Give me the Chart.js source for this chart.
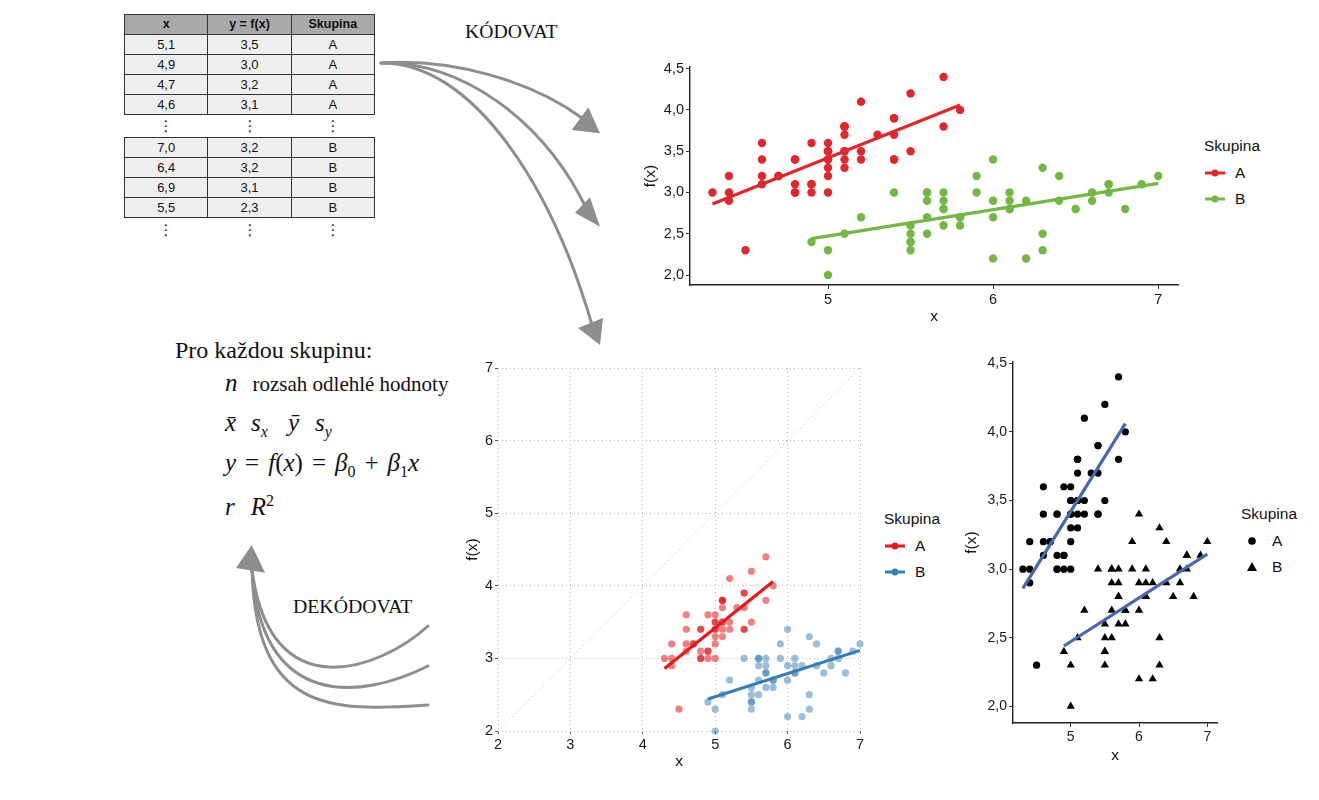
<!DOCTYPE html>
<html><head><meta charset="utf-8">
<script src="https://cdn.jsdelivr.net/npm/chart.js@4"></script>
<style>
body{margin:0;width:1319px;height:800px;background:#fff;position:relative;overflow:hidden;font-family:'Liberation Sans',Arial,sans-serif;color:#111;}
.abs{position:absolute;}
table.data{border-collapse:collapse;position:absolute;left:124px;width:251px;table-layout:fixed;}
table.data td,table.data th{border:1px solid #333;height:19px;padding:0;text-align:center;font-size:13px;line-height:19px;color:#111;background:#efefef;}
table.data th{background:#a9a9a9;font-weight:bold;font-size:12.5px;}
.vdots{position:absolute;font-size:15px;line-height:18px;width:20px;text-align:center;color:#222;font-family:'DejaVu Sans',sans-serif;}
.serif{font-family:'Liberation Serif','Times New Roman',serif;}
.math{font-family:'Liberation Serif','Times New Roman',serif;font-size:25px;position:absolute;left:225px;white-space:nowrap;line-height:30px;}
.math i{font-style:italic;}
.math sub,.math sup{font-size:16px;font-style:italic;}
.math .op{margin:0 9px;font-style:normal;}
.gap{display:inline-block;}
.legend{position:absolute;font-size:15.5px;color:#111;}
.legend .t{margin-bottom:5px;}
.legend .row{display:flex;align-items:center;height:26px;}
.legend svg{margin-right:9px;}
</style></head>
<body>

<svg class="abs" style="left:0;top:0" width="1319" height="800">
 <g fill="none" stroke="#8e8e8e" stroke-width="3" stroke-linecap="round">
  <path d="M381,63 C450,58 530,80 582,118"/>
  <path d="M381,63 C460,60 545,120 588,212"/>
  <path d="M381,63 C470,62 550,180 592,325"/>
  <path d="M428,626 C380,670 270,710 252,570"/>
  <path d="M428,666 C360,700 262,710 252,570"/>
  <path d="M428,705 C330,712 256,712 252,570"/>
 </g>
 <g fill="#8e8e8e">
  <polygon points="571.7,130 588.3,107.3 600,133.3"/>
  <polygon points="575,212.7 590,197.3 600,226.7"/>
  <polygon points="578,328 603,318 600,345"/>
  <polygon points="251.7,545 236,568 265,572.7"/>
 </g>
</svg>

<div class="abs serif" style="left:465px;top:20px;font-size:19.7px;">KÓDOVAT</div>
<div class="abs serif" style="left:293px;top:595px;font-size:19.8px;">DEKÓDOVAT</div>

<div class="abs serif" style="left:175px;top:337px;font-size:24px;">Pro každou skupinu:</div>
<div class="math" style="top:368px;"><i>n</i><span class="gap" style="width:15px"></span><span style="font-size:21px">rozsah odlehlé hodnoty</span></div>
<div class="math" style="top:408px;"><i>x&#772;</i><span class="gap" style="width:15px"></span><i>s</i><sub>x</sub><span class="gap" style="width:20px"></span><i>y&#772;</i><span class="gap" style="width:16px"></span><i>s</i><sub>y</sub></div>
<div class="math" style="top:448px;"><i>y</i><span class="op">=</span><i>f</i>(<i>x</i>)<span class="op">=</span><i>β</i><sub style="font-style:normal">0</sub><span class="op">+</span><i>β</i><sub style="font-style:normal">1</sub><i>x</i></div>
<div class="math" style="top:486px;"><i>r</i><span class="gap" style="width:16px"></span><i>R</i><sup style="font-style:normal">2</sup></div>

<div id="tables"></div>

<canvas id="c1" class="abs" width="551" height="278" style="left:639px;top:50px"></canvas>
<canvas id="c2" class="abs" width="414" height="418" style="left:461px;top:355px"></canvas>
<canvas id="c3" class="abs" width="265" height="417" style="left:960px;top:350px"></canvas>

<div id="leg1" class="legend" style="left:1204px;top:137px;"></div>
<div id="leg2" class="legend" style="left:884px;top:510px;"></div>
<div id="leg3" class="legend" style="left:1241px;top:505px;"></div>

<script>
// ---- data (iris-like values) ----
const groups = ['A', 'B'];
const xA = [5.1,4.9,4.7,4.6,5.0,5.4,4.6,5.0,4.4,4.9,5.4,4.8,4.8,4.3,5.8,5.7,5.4,5.1,5.7,5.1,5.4,5.1,4.6,5.1,4.8,5.0,5.0,5.2,5.2,4.7,4.8,5.4,5.2,5.5,4.9,5.0,5.5,4.9,4.4,5.1,5.0,4.5,4.4,5.0,5.1,4.8,5.1,4.6,5.3,5.0];
const yA = [3.5,3.0,3.2,3.1,3.6,3.9,3.4,3.4,2.9,3.1,3.7,3.4,3.0,3.0,4.0,4.4,3.9,3.5,3.8,3.8,3.4,3.7,3.6,3.3,3.4,3.0,3.4,3.5,3.4,3.2,3.1,3.4,4.1,4.2,3.1,3.2,3.5,3.6,3.0,3.4,3.5,2.3,3.2,3.5,3.8,3.0,3.8,3.2,3.7,3.3];
const xB = [7.0,6.4,6.9,5.5,6.5,5.7,6.3,4.9,6.6,5.2,5.0,5.9,6.0,6.1,5.6,6.7,5.6,5.8,6.2,5.6,5.9,6.1,6.3,6.1,6.4,6.6,6.8,6.7,6.0,5.7,5.5,5.5,5.8,6.0,5.4,6.0,6.7,6.3,5.6,5.5,5.5,6.1,5.8,5.0,5.6,5.7,5.7,6.2,5.1,5.7];
const yB = [3.2,3.2,3.1,2.3,2.8,2.8,3.3,2.4,2.9,2.7,2.0,3.0,2.2,2.9,2.9,3.1,3.0,2.7,2.2,2.5,3.2,2.8,2.5,2.8,2.9,3.0,2.8,3.0,2.9,2.6,2.4,2.4,2.7,2.7,3.0,3.4,3.1,2.3,3.0,2.5,2.6,3.0,2.6,2.3,2.7,3.0,2.9,2.9,2.5,2.8];
// regression line end points
const fitAx = [4.3, 5.8], fitAy = [2.86, 4.06];
const fitBx = [4.9, 7.0], fitBy = [2.44, 3.11];
// identity line in middle chart
const diagX = [2, 7], diagY = [2, 7];
// tick labels
const ticksTopX = [5, 6, 7], ticksTopY = [2, 2.5, 3, 3.5, 4, 4.5];
const ticksMid = [2, 3, 4, 5, 6, 7];
const ticksRightX = [5, 6, 7], ticksRightY = [2, 2.5, 3, 3.5, 4, 4.5];
const tableHeader = ['x', 'y = f(x)', 'Skupina'];
const tableRowsShown = 4;

// ---- tables ----
const comma = v => v.toFixed(1).replace('.', ',');
function buildTable(top, xs, ys, g, withHeader) {
  let h = '<table class="data" style="top:' + top + 'px">';
  if (withHeader) h += '<tr>' + tableHeader.map(t => '<th>' + t + '</th>').join('') + '</tr>';
  for (let i = 0; i < tableRowsShown; i++) h += '<tr><td>' + comma(xs[i]) + '</td><td>' + comma(ys[i]) + '</td><td>' + g + '</td></tr>';
  return h + '</table>';
}
function dots(top) {
  return [166, 250, 333].map(cx => '<div class="vdots" style="left:' + (cx - 10) + 'px;top:' + top + 'px">⋮</div>').join('');
}
document.getElementById('tables').innerHTML =
  buildTable(14, xA, yA, groups[0], true) + dots(117) + buildTable(137, xB, yB, groups[1], false) + dots(221);

// ---- legends ----
function legendHTML(colors, kind) {
  let h = '<div class="t">Skupina</div>';
  groups.forEach((g, i) => {
    let svg;
    if (kind === 'line') svg = '<svg width="22" height="10"><line x1="1" y1="5" x2="21" y2="5" stroke="' + colors[i] + '" stroke-width="3"/><circle cx="11" cy="5" r="3.5" fill="' + colors[i] + '"/></svg>';
    else if (i === 0) svg = '<svg width="22" height="12"><circle cx="11" cy="6" r="3.8" fill="#000"/></svg>';
    else svg = '<svg width="22" height="12"><polygon points="11,1 16,10 6,10" fill="#000"/></svg>';
    h += '<div class="row">' + svg + '<span>' + g + '</span></div>';
  });
  return h;
}
const RED1 = '#E2262B', GREEN1 = '#72B843';
const RED2 = '#E41A1C', BLUE2 = '#377EB8';
const FIT3 = '#4A67AE';
document.getElementById('leg1').innerHTML = legendHTML([RED1, GREEN1], 'line');
document.getElementById('leg2').innerHTML = legendHTML([RED2, BLUE2], 'line');
document.getElementById('leg3').innerHTML = legendHTML(null, 'shape');

// ---- charts ----
Chart.defaults.font.family = "'Liberation Sans', Arial, sans-serif";
Chart.defaults.color = '#1a1a1a';
const pts = (xs, ys) => xs.map((x, i) => ({ x: x, y: ys[i] }));

function axis(o) {
  return {
    type: 'linear', min: o.min, max: o.max,
    afterBuildTicks: s => { s.ticks = o.ticks.map(v => ({ value: v })); },
    afterFit: s => { if (o.w != null) s.width = o.w; if (o.h != null) s.height = o.h; },
    ticks: { color: '#1a1a1a', font: { size: o.fs || 14.5 }, padding: 2, autoSkip: false, maxRotation: 0, callback: o.fmt },
    grid: o.grid,
    border: o.border,
    title: { display: true, text: o.title, color: '#111', font: { size: 15.5 }, padding: { top: 2, bottom: 2 } }
  };
}
const classicGrid = { drawOnChartArea: false, drawTicks: true, tickLength: 4, tickColor: '#333', tickWidth: 1 };
const classicBorder = { display: true, color: '#222', width: 1.4 };
const dottedGrid = { color: '#b8b8b8', lineWidth: 1, drawTicks: true, tickLength: 3, tickColor: '#555', borderDash: [1, 3] };
const dottedBorder = { display: false, dash: [1, 3] };

function lineDs(xs, ys, color, w, dash) {
  return { data: pts(xs, ys), showLine: true, borderColor: color, borderWidth: w, pointRadius: 0, borderDash: dash || [], fill: false, borderCapStyle: 'butt' };
}
function ptDs(xs, ys, color, r, style) {
  return { data: pts(xs, ys), backgroundColor: color, borderWidth: 0, pointRadius: r, pointStyle: style || 'circle', showLine: false, clip: false };
}
const baseOpts = (pad) => ({
  responsive: false, animation: false, devicePixelRatio: 1,
  layout: { padding: pad },
  plugins: { legend: { display: false }, tooltip: { enabled: false } }
});

// top chart
new Chart(document.getElementById('c1'), {
  type: 'scatter',
  data: { datasets: [
    lineDs(fitAx, fitAy, RED1, 3.2), lineDs(fitBx, fitBy, GREEN1, 3.2),
    ptDs(xA, yA, RED1, 4.2), ptDs(xB, yB, GREEN1, 4.2)
  ] },
  options: Object.assign(baseOpts({ top: 17, right: 12, left: 0, bottom: 0 }), {
    scales: {
      x: axis({ min: 4.164, max: 7.12, ticks: ticksTopX, h: 43, title: 'x', fmt: v => String(v), grid: classicGrid, border: classicBorder }),
      y: axis({ min: 1.879, max: 4.52, ticks: ticksTopY, w: 51, title: 'f(x)', fmt: v => comma(v), grid: classicGrid, border: classicBorder })
    }
  })
});

// middle chart
new Chart(document.getElementById('c2'), {
  type: 'scatter',
  data: { datasets: [
    lineDs(fitAx, fitAy, RED2, 3.2), lineDs(fitBx, fitBy, BLUE2, 3.2),
    ptDs(xA, yA, 'rgba(228,26,28,0.55)', 3.6), ptDs(xB, yB, 'rgba(55,126,184,0.5)', 3.6),
    lineDs(diagX, diagY, 'rgba(240,140,150,0.8)', 1, [1, 3])
  ] },
  options: Object.assign(baseOpts({ top: 13, right: 15, left: 0, bottom: 0 }), {
    scales: {
      x: axis({ min: 2, max: 7, ticks: ticksMid, h: 42, title: 'x', fs: 14.5, fmt: v => String(v), grid: dottedGrid, border: dottedBorder }),
      y: axis({ min: 2, max: 7, ticks: ticksMid, w: 37, title: 'f(x)', fs: 14.5, fmt: v => String(v), grid: dottedGrid, border: dottedBorder })
    }
  })
});

// right chart
new Chart(document.getElementById('c3'), {
  type: 'scatter',
  data: { datasets: [
    lineDs(fitAx, fitAy, FIT3, 3.2), lineDs(fitBx, fitBy, FIT3, 3.2),
    ptDs(xA, yA, '#000', 3.6, 'circle'), ptDs(xB, yB, '#000', 4.8, 'triangle')
  ] },
  options: Object.assign(baseOpts({ top: 12, right: 8, left: 0, bottom: 0 }), {
    scales: {
      x: axis({ min: 4.155, max: 7.142, ticks: ticksRightX, h: 44, title: 'x', fs: 14, fmt: v => String(v), grid: classicGrid, border: classicBorder }),
      y: axis({ min: 1.879, max: 4.509, ticks: ticksRightY, w: 53, title: 'f(x)', fs: 14, fmt: v => comma(v), grid: classicGrid, border: classicBorder })
    }
  })
});
</script>
</body></html>
